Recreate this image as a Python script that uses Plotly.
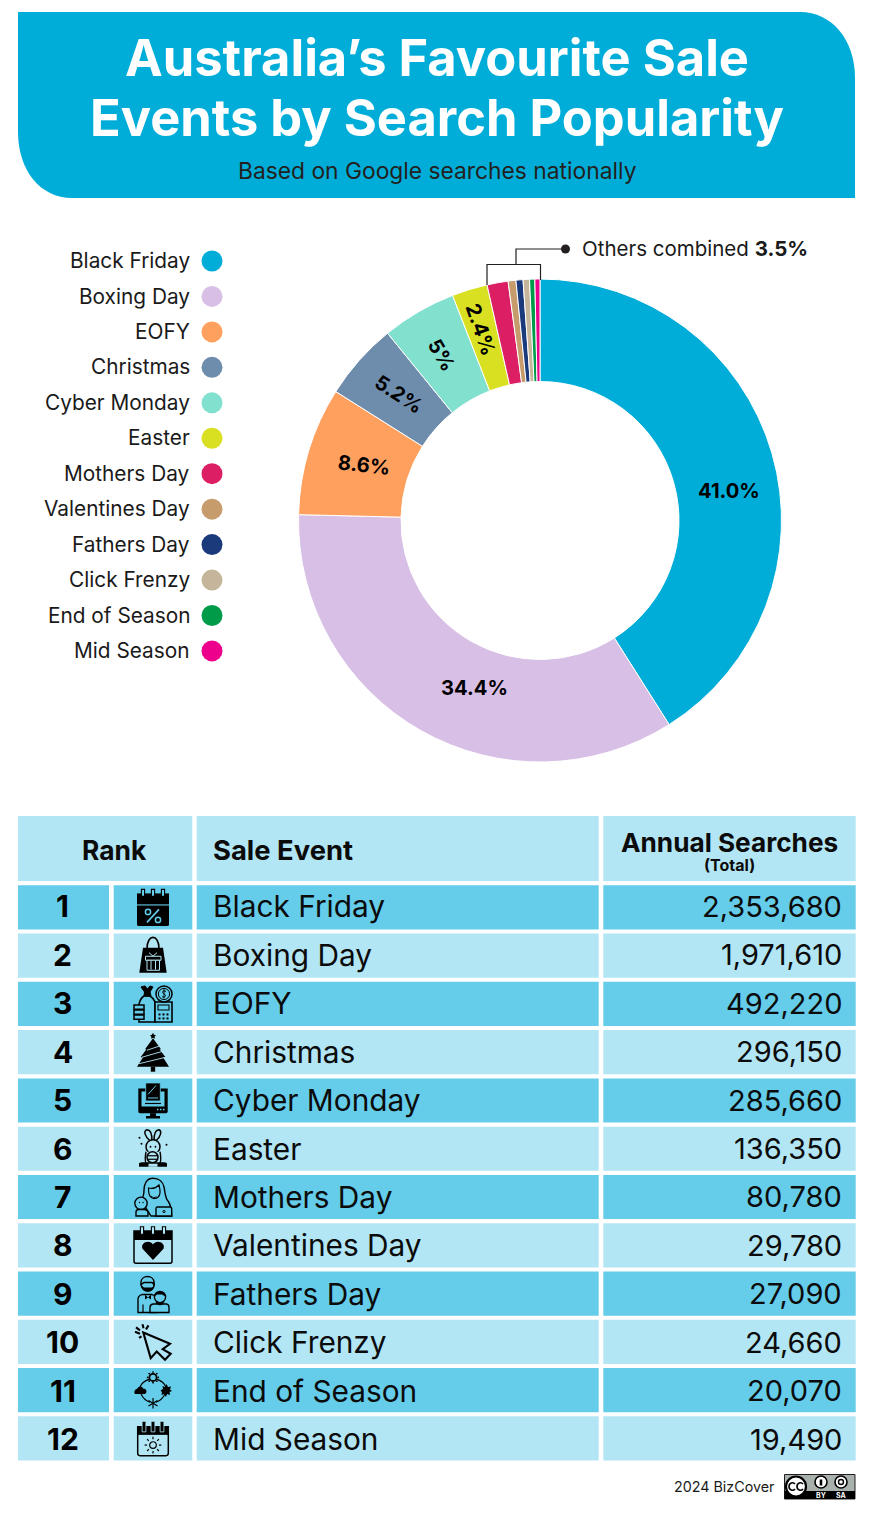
import re
import plotly.graph_objects as go

# ---- data ----
EVENTS = ["Black Friday", "Boxing Day", "EOFY", "Christmas", "Cyber Monday", "Easter",
          "Mothers Day", "Valentines Day", "Fathers Day", "Click Frenzy", "End of Season", "Mid Season"]
SEARCHES = [2353680, 1971610, 492220, 296150, 285660, 136350, 80780, 29780, 27090, 24660, 20070, 19490]
RANKS = list(range(1, 13))
SLICE_LABELS = ["41.0%", "34.4%", "8.6%", "5.2%", "5%", "2.4%"]
COLOURS = ["#00ADD8", "#D8BFE6", "#FFA05F", "#6E8CAB", "#82E0CF", "#D9E021",
           "#DC1F65", "#C69C6D", "#1B3A7C", "#C4B59B", "#009B48", "#EC008C"]

# ---- layout constants (page pixels) ----
W, H = 874, 1516
FONT = "Inter"
INK = "#0b0b0b"
BANNER = "#00ADD8"
LIGHT = "#B3E6F4"
DARK = "#65CDEA"
CX, CY, R = 540, 520.5, 241.5
HOLE = 139 / 241.5
LABEL_POS = [(729, 490, 0), (474.5, 687, 0), (363.5, 464, 6), (398.5, 393.5, 33), (442, 354, 60), (481.5, 329, 71)]
ROW_TOP, ROW_PITCH, ROW_H = 885.3, 48.27, 44.2
TEXT_TOP, TEXT_PITCH = 906.4, 48.43
ICON_X = 153

shapes, annos = [], []


def rect(x0, y0, x1, y1, fill, line=None, lw=0):
    shapes.append(dict(type="rect", xref="x", yref="y", x0=x0, y0=y0, x1=x1, y1=y1,
                       fillcolor=fill, line=dict(color=line or "rgba(0,0,0,0)", width=lw)))


def text(x, y, s, size, anchor="center", bold=False, color=INK, angle=0):
    annos.append(dict(xref="x", yref="y", x=x, y=y, text=f"<b>{s}</b>" if bold else s, showarrow=False,
                      xanchor=anchor, yanchor="middle", textangle=angle, borderpad=0, borderwidth=0,
                      font=dict(family=FONT, size=size, color=color)))


def path(d, ox=0, oy=0, fill="rgba(0,0,0,0)", line=None, lw=0):
    """Absolute M/L/C/Q/Z path in local coordinates, moved to (ox, oy)."""
    nums = iter(range(100000))

    def mv(m):
        i = next(nums)
        return f"{float(m.group(0)) + (ox if i % 2 == 0 else oy):.2f}"

    d2 = re.sub(r"-?\d+\.?\d*", mv, d)
    shapes.append(dict(type="path", xref="x", yref="y", path=d2, fillcolor=fill,
                       line=dict(color=line or "rgba(0,0,0,0)", width=lw)))


def circ(x, y, r, ox, oy, fill="rgba(0,0,0,0)", line=None, lw=0):
    shapes.append(dict(type="circle", xref="x", yref="y", x0=ox + x - r, x1=ox + x + r, y0=oy + y - r, y1=oy + y + r,
                       fillcolor=fill, line=dict(color=line or "rgba(0,0,0,0)", width=lw)))


K = "#000000"


def L(pts, ox, oy, c=K, lw=1.4, close=False, fill="rgba(0,0,0,0)"):
    d = "M" + " L".join(f"{a},{b}" for a, b in pts) + (" Z" if close else "")
    path(d, ox, oy, fill=fill, line=c, lw=lw)


def B(x0, y0, x1, y1, ox, oy, fill=K, line=None, lw=0):
    rect(ox + x0, oy + y0, ox + x1, oy + y1, fill, line, lw)


def rings(xs, top, bot, ox, oy, bg):
    for x in xs:
        B(x - 1.6, top, x + 1.6, bot, ox, oy, fill=bg, line=K, lw=1.1)


def icon1(o, y, bg):
    path("M-16,-14 L16,-14 L16,-3 L-16,-3 Z", o, y, fill=K)
    path("M-16,-2 L16,-2 L16,17 Q16,18.7 14,18.7 L-14,18.7 Q-16,18.7 -16,17 Z", o, y, fill=K)
    rings([-10, 0, 10], -18, -11, o, y, bg)
    L([(6, 2), (-6, 15)], o, y, bg, 1.6)
    circ(-5, 4.5, 2.6, o, y, line=bg, lw=1.5)
    circ(5, 12.5, 2.6, o, y, line=bg, lw=1.5)


def icon2(o, y, bg):
    path("M-6,-7 C-6,-22 6,-22 6,-7", o, y, line=K, lw=1.6)
    path("M-10,-8 L10,-8 L13.7,17 L-13.7,17 Z", o, y, fill=K)
    B(-7.5, 0.6, 8, 4.6, o, y, fill=K, line=bg, lw=1)
    B(-6, 4.6, 6.5, 14.6, o, y, fill=K, line=bg, lw=1)
    L([(-2, 5), (-2, 14)], o, y, bg, 1)
    L([(2.5, 5), (2.5, 14)], o, y, bg, 1)
    L([(-4, -3), (0, 0.5), (4, -3)], o, y, bg, 1)


def icon3(o, y, bg):
    path("M-9,-8 C-14,-5 -15,3 -14,8 L-14,18 L2,18 L2,-2 C1,-4 -1,-7 -3,-8 Z", o, y, fill=bg, line=K, lw=1.6)
    path("M-9,-8 L-2,-8 L-3,-12 L0,-17 L-3,-18 L-5.5,-15 L-8,-18 L-12,-17 L-8.5,-12 Z", o, y, fill=K, line=K, lw=1)
    for yy in (3, 8, 13):
        B(-19, yy - 2, -9, yy + 2.4, o, y, fill=bg, line=K, lw=1.5)
    B(2, -2, 19, 18, o, y, fill=bg, line=K, lw=1.6)
    B(5, 1, 16, 6, o, y, fill=bg, line=K, lw=1.1)
    for yy in (9.5, 13.5):
        for xx in (5.5, 9.5, 13.5):
            B(xx, yy, xx + 2, yy + 2, o, y)
    circ(11, -10, 8, o, y, fill=bg, line=K, lw=1.5)
    circ(11, -10, 5.6, o, y, line=K, lw=1)
    path("M13,-12.5 C11,-14 8.6,-12.5 10,-10.8 C11.5,-9.5 13.5,-9 12,-7.4 C11,-6.4 9.4,-7 9,-7.6", o, y, line=K, lw=1)
    L([(11, -15), (11, -5.5)], o, y, K, 0.9)


def icon4(o, y, bg):
    path("M0,-19.5 L1,-17.4 L3,-17 L1.6,-15.4 L2,-13.4 L0,-14.4 L-2,-13.4 L-1.6,-15.4 L-3,-17 L-1,-17.4 Z", o, y, fill=K)
    path("M0,-14 L8,-3 L6.5,-3 L12.5,5 L10,5 L16,14.5 L-16,14.5 L-10,5 L-12.5,5 L-6.5,-3 L-8,-3 Z", o, y, fill=K)
    B(-2.2, 14.5, 2.2, 19.5, o, y)
    L([(-6, -2), (6, -6)], o, y, bg, 0.9)
    L([(-11, 5), (10, -1)], o, y, bg, 0.9)
    L([(-14, 11.5), (13, 5)], o, y, bg, 0.9)


def icon5(o, y, bg):
    path("M-14.7,-12 L14.7,-12 L14.7,11 Q14.7,12.7 13,12.7 L-13,12.7 Q-14.7,12.7 -14.7,11 Z", o, y, fill=K)
    B(-11.5, -9, 11.5, 6, o, y, fill=bg)
    B(-7.3, -17.5, 7.3, 0.5, o, y, fill=K, line=bg, lw=0.8)
    L([(-8, 3), (8, 3)], o, y, K, 1.2)
    L([(-5, -6), (3, -15)], o, y, bg, 1)
    L([(-5, -2.5), (5, -2.5)], o, y, bg, 1)
    for xx in (4, 7, 10):
        B(xx, 8.2, xx + 1.5, 9.7, o, y, fill=bg)
    B(-3, 12.7, 3, 16, o, y)
    B(-7, 15.5, 7, 18, o, y)


def icon6(o, y, bg):
    path("M-3,-8 C-8,-12 -10,-18 -6,-19 C-2,-19 -1,-13 -1,-8", o, y, fill=bg, line=K, lw=1.5)
    path("M3,-8 C8,-12 9,-18 6,-19 C2,-19 1,-13 1,-8", o, y, fill=bg, line=K, lw=1.5)
    circ(0, -2, 7, o, y, fill=bg, line=K, lw=1.5)
    circ(-2.5, -2, 0.9, o, y, fill=K)
    circ(2.5, -2, 0.9, o, y, fill=K)
    path("M-7,3 C-8,8 -8,12 -7,15 L7,15 C8,12 8,8 7,3", o, y, fill=bg, line=K, lw=1.4)
    circ(-0.5, 8.5, 5.5, o, y, fill=bg, line=K, lw=1.5)
    L([(-6, 7), (5, 7)], o, y, K, 1.2)
    L([(-6, 10.5), (5, 10.5)], o, y, K, 1.2)
    path("M-14,18 L-14,15 Q-14,13.5 -11,13.5 L11,13.5 Q14,13.5 14,15 L14,18 Z", o, y, fill=K)
    B(-4.5, 15, 4.5, 18, o, y, fill=bg)
    for a, b in [(-13.5, -11), (-11.5, -5), (13.5, -4)]:
        circ(a, b, 1, o, y, fill=K)


def icon7(o, y, bg):
    path("M0,-18.7 C-7,-18.7 -9,-12 -9,-7 C-9,-3 -10,1 -12,3 L-2,19 L18.7,19 C18,11 18,8 15,4 C12,1 12,-6 11,-10 C10,-15 6,-18.7 0,-18.7 Z", o, y, fill=bg, line=K, lw=1.4)
    path("M-4.5,-9 C-1,-8 3,-9 6,-12 C7,-8 7.5,-4 6.5,-2 C5,2 -1,3 -3,-1 C-4.5,-3 -4.5,-6 -4.5,-9 Z", o, y, fill=bg, line=K, lw=1.2)
    path("M-2,-1 C0,1 2,1 3.5,-0.5", o, y, line=K, lw=0.9)
    circ(-12, 6.3, 6.2, o, y, fill=bg, line=K, lw=1.4)
    circ(-13.5, 5.5, 0.7, o, y, fill=K)
    circ(-10, 5.5, 0.7, o, y, fill=K)
    path("M-17,19 L-17,15 Q-17,12.5 -14,12.5 L-9,12.5 Q-5,12.5 -5,16 L-5,19 Z", o, y, fill=bg, line=K, lw=1.4)
    path("M4,10 L17,10 Q18.7,10 18.7,12 L18.7,19 L3,19 L3,12 Q3,10 4,10 Z", o, y, fill=bg, line=K, lw=1.4)
    circ(11, 14.5, 1.1, o, y, line=K, lw=1)


def icon8(o, y, bg):
    path("M-19,-14.3 L19,-14.3 L19,16 Q19,18 17,18 L-17,18 Q-19,18 -19,16 Z", o, y, fill=bg, line=K, lw=1.5)
    B(-19, -14.3, 19, -5.3, o, y)
    rings([-11, 0, 11], -18.5, -11, o, y, bg)
    path("M0,14.7 L-10.5,3.5 C-13,-3 -3,-6 0,-0.7 C3,-6 13,-3 10.5,3.5 Z", o, y, fill=K)


def icon9(o, y, bg):
    path("M-15,19 L-15,6 Q-15,2 -11,1 L-1,1 Q3,2 4,6 L4,19 Z", o, y, fill=bg, line=K, lw=1.4)
    circ(-5.3, -9, 6.5, o, y, fill=bg, line=K, lw=1.4)
    path("M-12,-11 C-12,-19 1,-19 1,-11 L1,-9 L-1,-11 L-9,-11 L-12,-9 Z", o, y, fill=bg, line=K, lw=1.4)
    path("M-11.5,-8 C-11.5,0 1,0 1,-8 L-1,-6 L-9,-6 Z", o, y, fill=K)
    path("M-8,1 L-5,4 L-2,1 L-2,6 L-5,4 L-8,6 Z", o, y, fill=K)
    L([(-10, 11), (-10, 19)], o, y, K, 1.2)
    circ(7, 3.5, 5.6, o, y, fill=bg, line=K, lw=1.4)
    path("M1.5,3 C1,-3.5 12.5,-3.5 12.5,3 L9,1 L4,1 Z", o, y, fill=K)
    path("M-3,19 L-3,14 Q-3,11 0,10.5 L14,10.5 Q16,11 16,14 L16,19 Z", o, y, fill=bg, line=K, lw=1.4)
    path("M3,9 C5,12 9,12 11,9", o, y, fill=K, line=K, lw=1)


def icon10(o, y, bg):
    L([(-9.7, -9.3), (17, 2), (9.7, 7.3), (17.7, 12), (12, 18), (3.7, 9.7), (-2.3, 16.3)], o, y, K, 2.1, close=True)
    for seg in [[(-10.5, -17.5), (-9.5, -13.5)], [(-4.5, -16.5), (-7, -12.5)], [(-18, -10), (-13, -8)],
                [(-17, -14.5), (-13, -11.5)], [(-14, -4), (-11.5, -5.5)]]:
        L(seg, o, y, K, 2.1)


def icon11(o, y, bg):
    path("M-3.5,-11 C-9,-9 -12,-6 -13,-3", o, y, line=K, lw=1.2)
    path("M3.5,-11 C9,-9 12,-6 13,-3", o, y, line=K, lw=1.2)
    path("M-12,4 C-10,8 -7,11 -3,12", o, y, line=K, lw=1.2)
    path("M12,4 C10,8 7,11 3,12", o, y, line=K, lw=1.2)
    circ(0, -12.7, 3.6, o, y, fill=bg, line=K, lw=1.8)
    for a, b in [(0, -18), (0, -7.4), (-5.3, -12.7), (5.3, -12.7), (-3.8, -16.5), (3.8, -16.5), (-3.8, -8.9), (3.8, -8.9)]:
        circ(a, b, 0.9, o, y, fill=K)
    path("M-18,4 C-20,1 -17,-1 -16,-1 C-15,-4 -11,-4.5 -10,-1.5 C-7,-2 -5,2 -8,4 Z", o, y, fill=K)
    path("M13.5,-6 L15,-3 L18,-3.5 L17,-0.5 L19,1 L16.5,2 L17,5 L14,4 L13,7 L11,4 L8.5,5 L9,2 L7.5,0.5 L10,-1 L9.5,-4 L12,-3 Z", o, y, fill=K)
    for seg in [[(0, 8), (0, 18.5)], [(-4.5, 10.5), (4.5, 16)], [(4.5, 10.5), (-4.5, 16)]]:
        L(seg, o, y, K, 1.2)


def icon12(o, y, bg):
    path("M-15.3,-11.7 L15.3,-11.7 L15.3,15 Q15.3,17.3 13,17.3 L-13,17.3 Q-15.3,17.3 -15.3,15 Z", o, y, fill=bg, line=K, lw=1.5)
    B(-15.3, -11.7, 15.3, -3.5, o, y)
    for x in (-9, 0, 9):
        B(x - 1.9, -17, x + 1.9, -6.5, o, y, fill=K, line=bg, lw=0.8)
    circ(0, 6.7, 3.3, o, y, line=K, lw=1.2)
    for a, b, c, d in [(0, -1.7, 0, 0.8), (0, 12.6, 0, 15.1), (-8.4, 6.7, -5.9, 6.7), (5.9, 6.7, 8.4, 6.7),
                       (-5.9, 0.8, -4.2, 2.5), (4.2, 2.5, 5.9, 0.8), (-5.9, 12.6, -4.2, 10.9), (4.2, 10.9, 5.9, 12.6)]:
        L([(a, b), (c, d)], o, y, K, 1.2)


ICONS = [icon1, icon2, icon3, icon4, icon5, icon6, icon7, icon8, icon9, icon10, icon11, icon12]

# ---- banner ----
path("M18,12 L800,12 C832,12 855,40 855,78 L855,198 L72,198 C40,198 18,170 18,132 Z", fill=BANNER)
text(437, 57.3, "Australia’s Favourite Sale", 50.6, bold=True, color="#ffffff")
text(437, 117.6, "Events by Search Popularity", 50.6, bold=True, color="#ffffff")
text(437, 170.3, "Based on Google searches nationally", 22.8, color="#231f20")

# ---- legend text ----
legend_y = [261 + 35.45 * i for i in range(len(EVENTS))]
for name, yy in zip(EVENTS, legend_y):
    text(190, yy - 0.4, name, 20.8, anchor="right", color="#1a1a1a")

# ---- slice labels ----
for lab, (x, y, a) in zip(SLICE_LABELS, LABEL_POS):
    text(x, y, lab, 20.2, bold=True, color="#000000", angle=a)

# ---- leader ----
L([(487, 285), (487, 264.5), (540.5, 264.5), (540.5, 280)], 0, 0, "#231f20", 1.2)
L([(516, 264.5), (516, 249), (565, 249)], 0, 0, "#231f20", 1.2)
circ(565.5, 249, 4.5, 0, 0, fill="#231f20")
text(582, 248.5, "Others combined <b>3.5%</b>", 20.5, anchor="left", color="#1a1a1a")

# ---- table ----
rect(18, 816, 192.3, 881, LIGHT)
rect(196.7, 816, 598.7, 881, LIGHT)
rect(603.3, 816, 855.7, 881, LIGHT)
text(114, 850, "Rank", 26.4, bold=True)
text(213.3, 850, "Sale Event", 27.4, anchor="left", bold=True)
text(729.5, 842, "Annual Searches", 26.2, bold=True)
text(729.5, 865, "(Total)", 16, bold=True)
for i, (rk, name, val) in enumerate(zip(RANKS, EVENTS, SEARCHES)):
    top = ROW_TOP + ROW_PITCH * i
    mid = top + ROW_H / 2
    ty = TEXT_TOP + TEXT_PITCH * i
    bg = DARK if i % 2 == 0 else LIGHT
    for x0, x1 in [(18, 109), (113.7, 192.3), (196.7, 598.7), (603.3, 855.7)]:
        rect(x0, top, x1, top + ROW_H, bg)
    text(62.5, ty, str(rk), 30, bold=True, color="#000000")
    text(213.3, ty, name, 29.8, anchor="left")
    text(842, ty, f"{val:,}", 29, anchor="right")
    ICONS[i](ICON_X, mid, bg)

# ---- footer ----
text(775, 1486, "2024 BizCover", 14.3, anchor="right", color="#1a1a1a")
rect(784.5, 1474.5, 855, 1499, "#A9B1AC", "#231f20", 1)
rect(784.5, 1491, 855, 1499, "#000000")
circ(796, 1486.5, 10, 0, 0, fill="#ffffff", line="#000000", lw=2.2)
path("M795,1484 C793,1481.5 789,1483 789,1486.5 C789,1490 793,1491.5 795,1489", line="#000", lw=1.6)
path("M803,1484 C801,1481.5 797,1483 797,1486.5 C797,1490 801,1491.5 803,1489", line="#000", lw=1.6)
for cx_ in (821, 841):
    circ(cx_, 1482, 6, 0, 0, fill="#ffffff", line="#000000", lw=1.6)
rect(819.7, 1479.5, 822.3, 1485.5, "#000000")
circ(841, 1482, 2.5, 0, 0, line="#000000", lw=1.4)
annos.append(dict(xref="x", yref="y", x=821, y=1495.2, text="<b>BY</b>", showarrow=False, font=dict(family=FONT, size=7, color="#ffffff")))
annos.append(dict(xref="x", yref="y", x=841, y=1495.2, text="<b>SA</b>", showarrow=False, font=dict(family=FONT, size=7, color="#ffffff")))

# ---- figure ----
fig = go.Figure()
fig.add_trace(go.Scatter(x=[212] * len(EVENTS), y=legend_y, mode="markers",
                         marker=dict(color=COLOURS, size=21, line=dict(width=0)),
                         hoverinfo="skip", showlegend=False, cliponaxis=False))
fig.add_trace(go.Pie(labels=EVENTS, values=SEARCHES, sort=False, direction="clockwise", rotation=0, hole=HOLE,
                     marker=dict(colors=COLOURS, line=dict(color="#ffffff", width=1)),
                     textinfo="none", hoverinfo="label+value", showlegend=False,
                     domain=dict(x=[(CX - R) / W, (CX + R) / W], y=[1 - (CY + R) / H, 1 - (CY - R) / H])))
fig.update_layout(
    width=W, height=H, autosize=False, margin=dict(l=0, r=0, t=0, b=0),
    paper_bgcolor="#ffffff", plot_bgcolor="rgba(0,0,0,0)", showlegend=False,
    xaxis=dict(range=[0, W], visible=False, fixedrange=True, domain=[0, 1]),
    yaxis=dict(range=[H, 0], visible=False, fixedrange=True, domain=[0, 1]),
    shapes=shapes, annotations=annos, font=dict(family=FONT),
)
fig.write_html("out.html", config=dict(displayModeBar=False),
               post_script="document.body.style.margin='0';document.documentElement.style.overflow='hidden';")
